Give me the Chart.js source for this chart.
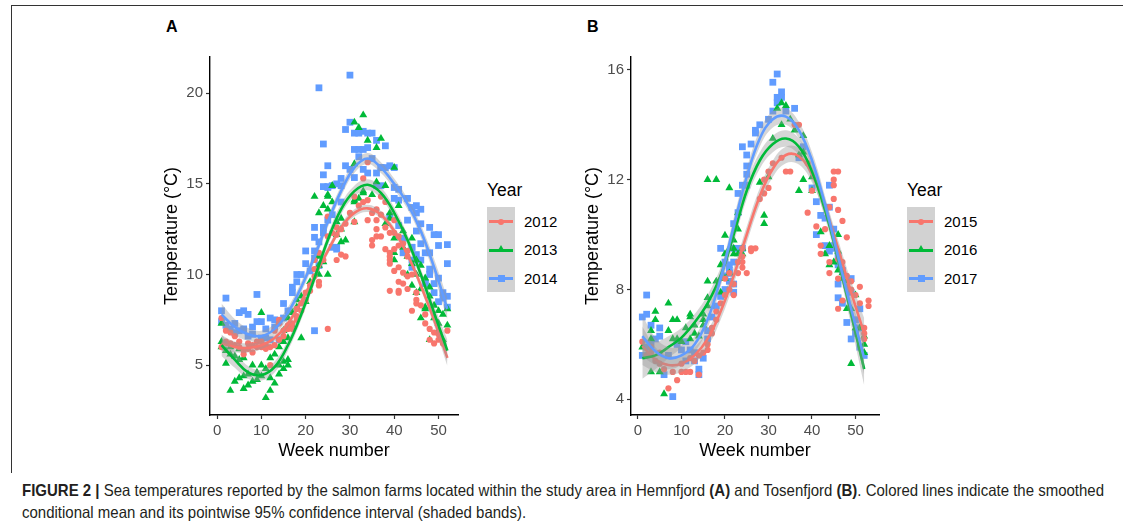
<!DOCTYPE html>
<html>
<head>
<meta charset="utf-8">
<script src="https://cdn.jsdelivr.net/npm/chart.js@4.4.1/dist/chart.umd.min.js"></script>
<style>
  html, body { margin:0; padding:0; background:#fff; }
  body { width:1123px; height:526px; position:relative; overflow:hidden; font-family: Arial, "Liberation Sans", sans-serif; }
  .abs { position:absolute; }
  canvas { position:absolute; }
  .plab { position:absolute; font-weight:bold; font-size:16px; color:#000; line-height:16px; }
  .legtitle { position:absolute; font-size:17.5px; line-height:18px; color:#000; }
  .legbox { position:absolute; width:28px; height:85px; background:#D2D2D2; }
  .legline { position:absolute; height:3px; width:24px; }
  .leglab { position:absolute; font-size:15px; line-height:16px; color:#000; }
  .cap { position:absolute; left:22px; white-space:nowrap; font-family:"Liberation Sans",Arial,sans-serif; font-size:16.5px; color:#231F20; transform-origin:0 0; line-height:17px; }
</style>
</head>
<body>
<div class="abs" style="left:11px;top:5px;width:1112px;height:0;border-top:1.3px solid #333;"></div>
<div class="abs" style="left:11px;top:5px;width:0;height:468px;border-left:1.3px solid #333;"></div>

<div class="plab" style="left:166px;top:19px;">A</div>
<div class="plab" style="left:587px;top:19px;">B</div>

<canvas id="cA" width="320" height="425" style="left:150px;top:45px;"></canvas>
<canvas id="cB" width="320" height="425" style="left:571px;top:45px;"></canvas>

<div id="legA"></div>
<div id="legB"></div>

<div id="cap1" class="cap" style="top:482px;"><b>FIGURE 2 |</b> Sea temperatures reported by the salmon farms located within the study area in Hemnfjord <b>(A)</b> and Tosenfjord <b>(B)</b>. Colored lines indicate the smoothed</div>
<div id="cap2" class="cap" style="top:504px;">conditional mean and its pointwise 95% confidence interval (shaded bands).</div>

<script>
// ---------------- DATA ----------------
const yearsA = ['2012', '2013', '2014'];
const yearsB = ['2015', '2016', '2017'];
const xTicksA = [0, 10, 20, 30, 40, 50];
const yTicksA = [5, 10, 15, 20];
const xTicksB = [0, 10, 20, 30, 40, 50];
const yTicksB = [4, 8, 12, 16];

// Panel A observations (week, temperature)
const wk2012 = [1,2,3,4,1,3,5,6,6,7,8,10,11,12,13,14,13,14,14,12,17,18,18,18,19,20,21,22,23,23,24,25,27,35,39,40,41,39,41,42,43,44,39,41,43,45,44,45,46,45,47,47,48,49,50,48,50,52,49,51,2,4,5,7,8,9,9,10,11,15,15,16,16,17,19,20,21,22,22,23,25,27,26,25,28,29,27,28,32,33,34,31,33,34,37,36,38,34,36,36,36,35,37,38,37,40,40,39,41,42,43,43,38,39,39,40,41,41,42,30,29,31,35];
const t2012 = [7.6,6.9,6.8,6.6,6.0,6.2,6.0,5.8,5.6,5.9,5.7,6.0,6.1,6.0,6.1,6.4,6.9,7.3,7.5,5.0,7.3,7.5,7.7,8.1,8.4,9.0,9.4,9.9,9.6,9.4,10.8,7.0,10.8,11.6,11.2,11.4,11.6,10.6,10.4,10.1,9.9,10.0,9.1,9.0,9.2,9.0,8.0,8.6,8.3,8.4,7.8,7.3,7.0,6.8,6.7,6.4,6.4,6.9,6.2,6.2,6.3,6.1,6.3,6.2,6.1,6.0,6.3,6.3,5.9,6.6,6.9,7.0,7.2,7.0,8.0,8.6,9.1,10.3,10.8,11.2,13.2,12.6,12.3,12.1,11.1,11.0,12.2,12.5,13.8,14.0,14.1,14.3,15.3,16.2,14.3,13.6,14.0,13.0,13.0,12.5,12.1,11.9,12.1,12.6,13.3,12.3,13.0,12.3,12.1,11.7,11.0,11.3,11.4,10.8,11.0,10.2,9.6,9.1,9.5,13.4,12.8,12.9,13.4];

const wk2013 = [1,1,1,2,3,4,5,6,3,4,5,6,7,6,7,9,9,10,10,11,12,12,13,14,15,16,12,13,14,15,16,14,15,16,15,17,16,17,18,18,19,21,25,23,23,28,44,43,45,44,45,46,46,47,47,48,49,50,52,50,51,48,8,8,10,11,2,3,5,19,20,33,31,32,34,37,36,40,22,23,25,26,25,26,28,31,31,32,33,29,31,36,38,39,41,24,25,27,27,28,24,23,31,33,35,38,39,40,40,40,42,43,44,46,47,48,49,50,51,52,45,42];
const t2013 = [7.3,6.0,6.3,5.8,5.6,5.5,5.3,5.4,3.6,4.1,4.3,4.4,4.5,3.7,3.9,4.2,4.6,5.0,7.9,3.2,3.6,4.3,4.0,4.5,4.8,5.0,5.4,5.6,5.0,5.2,5.3,6.0,6.3,6.5,6.9,7.2,7.6,7.9,8.6,8.2,8.8,9.6,10.0,10.5,11.0,11.8,10.6,10.0,10.0,9.4,9.0,9.2,7.6,8.2,8.1,6.4,7.6,7.3,8.1,6.9,6.4,9.3,5.0,4.1,4.4,4.8,5.1,6.0,5.9,6.5,8.5,18.8,18.4,18.1,17.4,17.5,17.0,15.9,14.3,13.4,14.3,14.9,13.6,14.0,13.1,12.9,14.0,14.2,14.5,11.9,16.1,15.1,14.9,13.4,13.8,13.8,14.4,12.2,12.9,12.5,10.7,10.0,14.1,14.6,14.4,12.8,13.1,12.0,11.2,10.8,11.5,11.0,12.0,10.5,9.8,8.8,8.3,8.0,7.8,7.2,10.8,12.4];

const wk2014 = [2,1,5,6,7,9,2,4,9,10,12,13,5,7,10,11,12,14,18,19,22,20,22,26,52,48,50,44,49,50,52,48,47,48,1,3,4,6,8,8,11,13,14,15,16,15,17,17,18,21,23,30,24,25,24,24,25,29,30,31,32,33,34,35,32,33,34,36,38,37,38,40,41,40,43,44,45,46,48,49,50,52,44,46,27,28,30,33,31,36,37,36,37,22,22,20,25,26,28,24,25,27,22,23,24,39,41,45,41,42,44,45,46,42,44,47,43,40,39,35,34,31,32,29,27,26,28,23,51,50,49,52,51,46,47,45];
const t2014 = [8.7,8.0,7.9,8.0,7.8,8.9,7.2,7.3,7.4,7.4,7.6,7.5,6.9,6.6,6.5,6.5,6.4,6.4,10.0,10.0,6.9,10.6,10.9,11.5,10.6,11.2,11.6,10.8,9.5,9.8,8.8,10.3,9.5,10.0,7.4,7.0,6.8,7.0,7.1,6.7,7.0,7.1,7.4,7.6,8.0,8.4,9.3,9.0,9.6,10.2,20.3,21.0,17.2,16.0,15.5,14.85,14.85,18.0,18.4,17.8,17.8,17.9,17.8,17.8,16.9,16.9,17.0,17.4,17.1,15.9,15.9,14.8,14.7,14.2,14.2,13.7,13.4,13.6,12.6,12.2,12.2,11.65,11.5,11.7,11.4,15.3,15.8,15.8,15.35,15.6,15.9,14.9,14.9,12.05,12.6,11.3,14.8,14.9,14.9,12.6,13.0,11.5,11.3,11.8,12.3,13.2,14.1,13.8,12.7,12.0,11.5,12.4,12.8,11.2,10.4,9.5,13.0,15.9,16.0,16.4,15.6,16.9,16.5,16.0,15.0,13.3,14.0,10.5,9.0,8.5,9.0,8.2,8.7,10.8,11.2,11.1];

// Panel B observations
const wk2015 = [1,3,3,5,5,7,8,9,10,11,12,14,13,14,15,16,16,17,17,18,18,19,20,20,21,21,23,24,25,26,26,24,27,24,24,23,22,22,29,30,28,31,33,34,35,36,37,39,39,40,45,45,44,45,42,42,46,43,41,46,47,46,48,48,49,51,51,50,53,53,52,52,52,44,44,47,45,46,46,47,48,48,49,29,30,2,4,6,10,12];
const t2015 = [6.1,5.9,5.7,5.3,5.7,4.4,5.0,4.7,5.0,5.0,5.0,4.9,5.4,5.6,5.7,5.8,6.0,6.4,6.6,6.9,7.2,7.5,7.8,8.4,8.6,8.0,9.0,9.2,8.6,9.4,9.5,9.5,9.5,8.8,9.0,8.6,8.2,7.8,11.5,11.7,11.3,12.6,12.8,12.3,12.3,14.0,14.0,12.6,10.8,11.6,11.8,12.0,11.0,11.3,9.3,9.6,9.1,10.2,10.3,7.3,7.6,8.4,8.1,8.1,8.0,8.1,7.5,7.8,7.4,7.6,6.6,6.2,6.4,8.6,9.0,9.0,12.3,12.3,10.9,10.5,9.9,8.5,8.3,12.0,12.3,5.6,5.4,5.1,5.3,5.5];

const wk2016 = [7,4,4,3,7,8,9,11,12,12,13,15,12,13,1,3,3,5,6,8,9,15,15,16,16,16,18,19,20,21,22,23,24,21,20,22,24,16,18,21,23,29,30,31,33,32,33,34,35,36,38,38,37,37,38,40,40,42,43,44,44,45,46,47,48,46,46,47,48,49,50,50,51,49,52,52,52,19,20,22,23,28,29,19,2,10,14];
const t2016 = [7.5,7.2,6.9,6.5,6.5,6.9,6.9,6.6,7.0,7.1,6.7,6.7,6.2,6.4,5.9,6.2,5.0,5.0,4.2,6.2,6.2,6.9,7.1,7.4,7.7,8.3,8.3,8.9,8.4,8.6,9.3,9.3,9.3,9.5,9.3,9.5,9.5,12.0,12.0,11.7,10.8,10.4,12.1,13.5,14.0,14.6,14.8,14.7,14.2,13.8,13.6,13.0,12.9,11.6,12.0,12.1,11.6,10.1,9.3,8.9,9.6,9.0,8.7,8.4,8.3,9.4,10.0,8.6,7.3,7.3,7.8,6.6,6.6,5.3,5.7,6.0,6.3,8.4,9.97,9.8,10.2,11.9,10.7,7.9,5.6,6.1,6.3];

const wk2017 = [2,1,2,3,5,4,5,1,2,3,6,8,9,11,11,13,13,14,14,15,16,16,17,18,19,20,21,21,22,21,22,19,20,21,23,24,22,20,22,21,25,22,23,23,24,25,25,24,25,26,27,27,28,30,31,32,34,32,33,33,31,32,36,37,38,40,41,42,41,43,45,46,44,45,46,47,47,49,49,51,50,51,50,43,44,44,45,46,46,46,48,49,51,52,10,7,12];
const t2017 = [7.8,7.0,7.1,6.7,6.6,6.2,6.3,5.6,5.9,6.0,4.9,4.1,6.0,6.1,5.4,5.4,5.7,4.9,5.1,5.5,6.2,6.5,7.0,7.4,7.75,8.0,8.3,8.6,8.2,8.9,7.9,9.5,8.5,8.6,9.5,9.5,9.5,9.0,9.0,8.7,11.8,10.4,10.8,11.5,11.8,12.2,12.5,13.2,12.9,13.3,13.7,13.8,14.0,14.2,14.5,14.8,14.5,15.0,15.2,15.0,15.55,15.85,14.6,12.8,13.2,11.7,11.2,10.7,10.0,10.6,9.6,9.2,9.4,9.5,9.0,8.7,7.5,8.4,7.9,7.3,6.9,6.6,6.4,9.6,11.0,11.8,10.2,8.9,8.2,7.7,6.8,6.2,5.9,5.6,5.8,5.6,5.8];

// Smoothed conditional means and half-widths of the 95% bands
const fitWeeks = [1,4,7,10,13,16,19,22,25,28,31,34,37,40,43,46,49,52];
const fit2012 = [6.2,6.0,5.95,6.1,6.5,7.3,8.5,9.9,11.3,12.6,13.4,13.65,13.3,12.4,11.1,9.4,7.5,5.4];
const fit2013 = [6.1,5.3,4.6,4.45,4.9,6.1,7.8,9.8,11.9,13.6,14.6,14.95,14.5,13.4,11.9,10.0,7.9,5.8];
const fit2014 = [7.8,7.1,6.7,6.6,7.0,7.9,9.3,11.0,12.9,14.6,15.9,16.4,15.9,15.0,13.9,12.4,10.4,8.1];
const se2012 = [0.45,0.3,0.25,0.22,0.2,0.2,0.2,0.2,0.2,0.2,0.2,0.2,0.2,0.2,0.2,0.22,0.3,0.45];
const se2013 = [0.6,0.45,0.35,0.3,0.3,0.3,0.3,0.3,0.3,0.3,0.3,0.3,0.3,0.3,0.3,0.3,0.4,0.6];
const se2014 = [0.6,0.45,0.35,0.3,0.3,0.3,0.3,0.3,0.3,0.3,0.3,0.3,0.3,0.3,0.3,0.35,0.45,0.6];
const fit2015 = [5.95,5.45,5.25,5.3,5.6,6.2,7.2,8.5,10.0,11.4,12.4,12.9,12.85,12.2,11.0,9.5,7.9,6.4];
const fit2016 = [5.5,5.6,5.9,6.25,6.8,7.5,8.5,10.0,11.6,12.7,13.3,13.5,13.2,12.3,10.9,9.1,7.1,5.1];
const fit2017 = [6.3,5.75,5.5,5.6,6.0,6.9,8.4,10.3,12.1,13.5,14.2,14.3,13.8,12.7,11.1,9.2,7.3,5.5];
const se2015 = [0.7,0.45,0.35,0.3,0.3,0.3,0.3,0.3,0.3,0.3,0.3,0.3,0.3,0.3,0.3,0.3,0.4,0.55];
const se2016 = [0.75,0.5,0.4,0.35,0.3,0.3,0.3,0.3,0.3,0.3,0.3,0.3,0.3,0.3,0.3,0.3,0.4,0.6];
const se2017 = [0.75,0.5,0.4,0.35,0.3,0.3,0.3,0.3,0.3,0.3,0.3,0.3,0.3,0.3,0.3,0.3,0.4,0.6];

// ---------------- STYLE ----------------
const COLORS = ['#F8766D', '#00BA38', '#619CFF'];
const SHAPES = ['circle', 'triangle', 'rect'];
const RADII = [3.1, 4.6, 4.8];
const BAND = 'rgba(153,153,153,0.4)';

function pts(w, t) { return w.map((x, i) => ({ x: x, y: t[i] })); }

function buildDatasets(obs, fits, ses) {
  const ds = [];
  obs.forEach((o, k) => {
    ds.push({ type: 'scatter', data: pts(o[0], o[1]), pointStyle: SHAPES[k], pointRadius: RADII[k],
      backgroundColor: COLORS[k], borderWidth: 0, pointBorderWidth: 0, order: 10 });
  });
  fits.forEach((f, k) => {
    const up = fitWeeks.map((w, i) => ({ x: w, y: f[i] + ses[k][i] }));
    const lo = fitWeeks.map((w, i) => ({ x: w, y: f[i] - ses[k][i] }));
    const base = ds.length;
    ds.push({ type: 'line', data: up, borderWidth: 0, pointRadius: 0, tension: 0.4, fill: false, order: 6 - k * 2 });
    ds.push({ type: 'line', data: lo, borderWidth: 0, pointRadius: 0, tension: 0.4, fill: base, backgroundColor: BAND, order: 6 - k * 2 });
    ds.push({ type: 'line', data: fitWeeks.map((w, i) => ({ x: w, y: f[i] })), borderColor: COLORS[k], borderWidth: 2.6,
      pointRadius: 0, tension: 0.4, fill: false, order: 5 - k * 2 });
  });
  return ds;
}

function makeChart(id, datasets, xr, yr, xt, yt) {
  return new Chart(document.getElementById(id), {
    type: 'scatter',
    data: { datasets: datasets },
    options: {
      responsive: false, animation: false, devicePixelRatio: 1,
      layout: { padding: { left: 0, top: 0, right: 12, bottom: 0 } },
      plugins: { legend: { display: false }, tooltip: { enabled: false } },
      scales: {
        x: {
          type: 'linear', min: xr[0], max: xr[1],
          afterBuildTicks: s => { s.ticks = xt.map(v => ({ value: v })); },
          afterFit: s => { s.height = 55; },
          ticks: { font: { size: 15, family: 'Arial' }, color: '#4D4D4D', padding: 3, maxRotation: 0 },
          grid: { display: true, drawOnChartArea: false, drawTicks: true, tickLength: 4, color: '#333333', tickWidth: 1.2 },
          border: { display: true, color: '#000000', width: 1.4 },
          title: { display: true, text: 'Week number', color: '#000', font: { size: 18, family: 'Arial' }, padding: { top: 0, bottom: 8.5 } }
        },
        y: {
          type: 'linear', min: yr[0], max: yr[1],
          afterBuildTicks: s => { s.ticks = yt.map(v => ({ value: v })); },
          afterFit: s => { s.width = 60; },
          ticks: { font: { size: 15, family: 'Arial' }, color: '#4D4D4D', padding: 3 },
          grid: { display: true, drawOnChartArea: false, drawTicks: true, tickLength: 4, color: '#333333', tickWidth: 1.2 },
          border: { display: true, color: '#000000', width: 1.4 },
          title: { display: true, text: 'Temperature (°C)', color: '#000', font: { size: 18, family: 'Arial' }, padding: { top: 11.7, bottom: 0 } }
        }
      }
    }
  });
}

makeChart('cA', buildDatasets([[wk2012, t2012], [wk2013, t2013], [wk2014, t2014]], [fit2012, fit2013, fit2014], [se2012, se2013, se2014]),
  [-1.6, 54.4], [2.25, 22.0], xTicksA, yTicksA);
makeChart('cB', buildDatasets([[wk2015, t2015], [wk2016, t2016], [wk2017, t2017]], [fit2015, fit2016, fit2017], [se2015, se2016, se2017]),
  [-1.6, 55.4], [3.43, 16.47], xTicksB, yTicksB);

// ---------------- LEGENDS ----------------
function legend(el, x0, years) {
  let h = '<div class="legtitle" style="left:' + x0 + 'px;top:181px;">Year</div>';
  h += '<div class="legbox" style="left:' + x0 + 'px;top:207px;"></div>';
  const ys = [221.5, 250, 278.5];
  years.forEach((yr, k) => {
    const c = COLORS[k];
    h += '<div class="legline" style="left:' + (x0 + 2) + 'px;top:' + (ys[k] - 1.5) + 'px;background:' + c + ';"></div>';
    const cx = x0 + 14;
    if (k === 0) h += '<div class="abs" style="left:' + (cx - 3) + 'px;top:' + (ys[k] - 3) + 'px;width:6px;height:6px;border-radius:50%;background:' + c + ';"></div>';
    if (k === 1) h += '<div class="abs" style="left:' + (cx - 4) + 'px;top:' + (ys[k] - 5) + 'px;width:0;height:0;border-left:4px solid transparent;border-right:4px solid transparent;border-bottom:7px solid ' + c + ';"></div>';
    if (k === 2) h += '<div class="abs" style="left:' + (cx - 3.5) + 'px;top:' + (ys[k] - 3.5) + 'px;width:7px;height:7px;background:' + c + ';"></div>';
    h += '<div class="leglab" style="left:' + (x0 + 37) + 'px;top:' + (ys[k] - 8) + 'px;">' + yr + '</div>';
  });
  document.getElementById(el).innerHTML = h;
}
legend('legA', 487, yearsA);
legend('legB', 907, yearsB);

// ---------------- CAPTION FIT ----------------
(function () {
  const c1 = document.getElementById('cap1'), c2 = document.getElementById('cap2');
  const w = c1.getBoundingClientRect().width;
  const s = 1082 / w;
  c1.style.transform = 'scaleX(' + s + ')';
  c2.style.transform = 'scaleX(' + s + ')';
})();
</script>
</body>
</html>
